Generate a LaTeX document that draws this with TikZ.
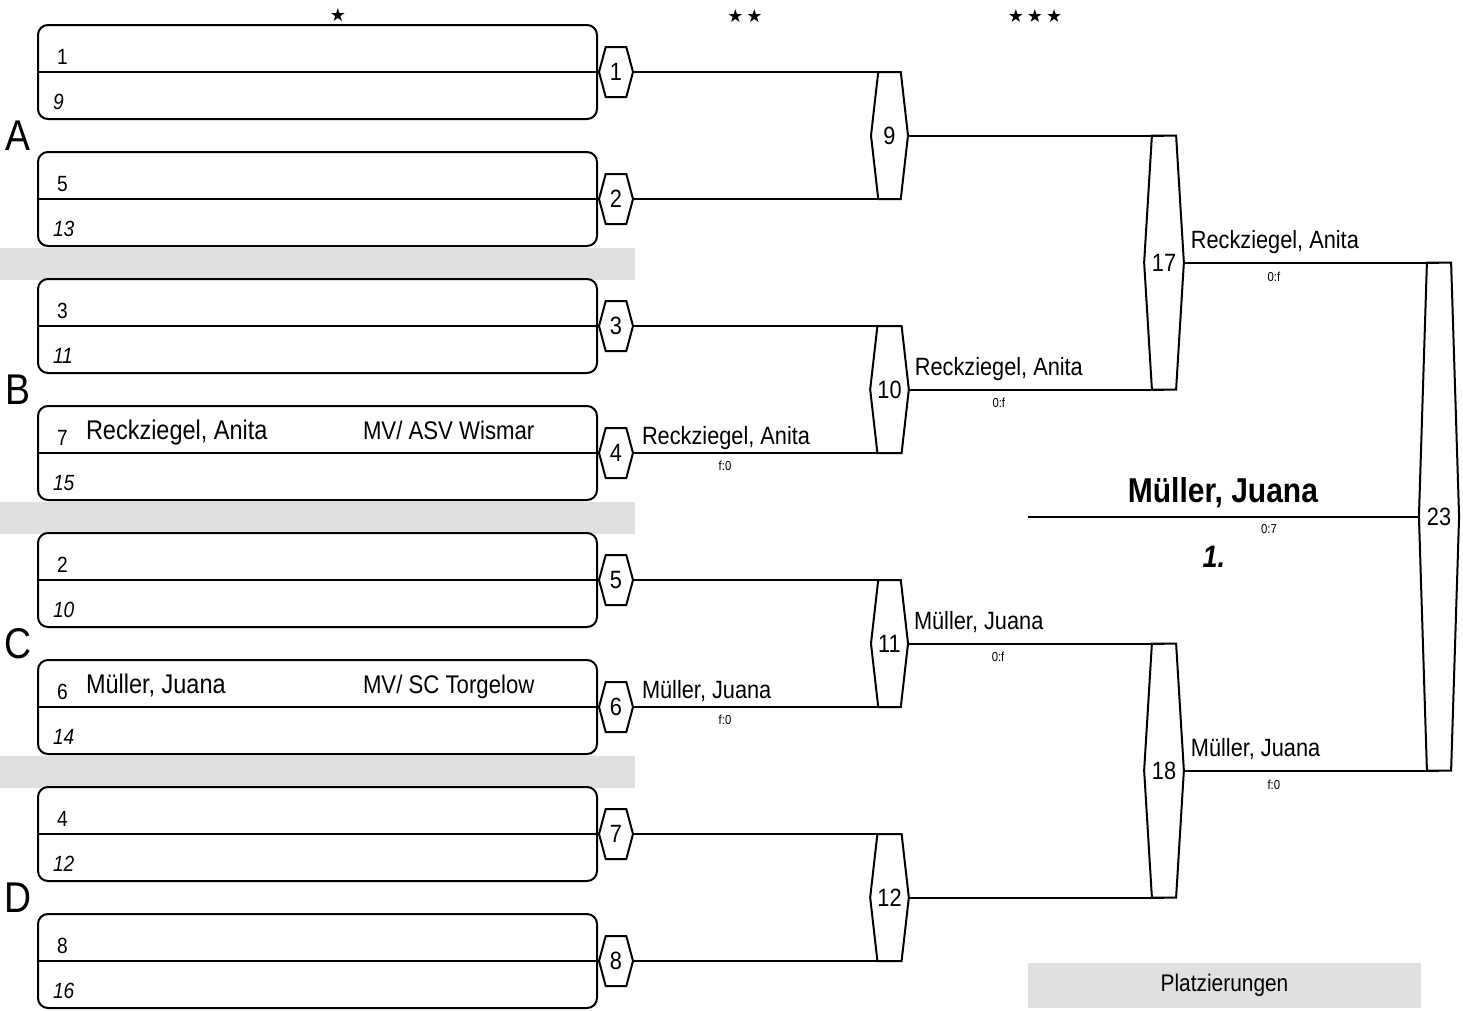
\documentclass[tikz,border=0pt]{standalone}
\usepackage{fontspec}
\setmainfont{Liberation Sans}[FakeStretch=0.87]
\newfontfamily\starfont{DejaVu Sans}
\usepackage{xcolor}
\usepackage{tikz}
\usetikzlibrary{positioning,calc,shapes.symbols}
\definecolor{bandgray}{RGB}{224,224,224}
\newcommand{\fsz}[1]{\fontsize{#1}{#1}\selectfont}

\begin{document}
\begin{tikzpicture}[
  x=1pt, y=-1pt,
  line width=2pt,
  node distance=33pt,
  pairbox/.style={draw, rounded corners=10pt, minimum width=559pt, minimum height=94pt,
                  inner sep=0pt, outer sep=0pt},
  band/.style={fill=bandgray, inner sep=0pt, outer sep=0pt, minimum width=635pt, minimum height=32pt},
  match/.style={draw, shape=signal, signal to=east and west, inner sep=0pt, outer sep=0pt, font=\fsz{25}},
  rone/.style={match, minimum width=34pt, minimum height=50pt, signal pointer angle=150},
  rtwo/.style={match, minimum width=37pt, minimum height=127pt, signal pointer angle=167},
  rthree/.style={match, minimum width=36pt, minimum height=254pt, signal pointer angle=173},
  rfour/.style={match, minimum width=34pt, minimum height=508pt, signal pointer angle=176.4},
  seed/.style={anchor=base west, inner sep=0pt, font=\fsz{22}},
  seedit/.style={seed, font=\fsz{22}\itshape},
  player/.style={anchor=base west, inner sep=0pt, font=\fsz{27}},
  club/.style={anchor=base west, inner sep=0pt, font=\fsz{25.5}},
  adv/.style={anchor=base west, inner sep=0pt, font=\fsz{25}},
  score/.style={inner sep=0pt, font=\fsz{13}},
  grp/.style={inner sep=0pt, font=\fsz{43}},
  stars/.style={inner sep=0pt, font=\starfont\fsz{18}},
]
\useasboundingbox (0,0) rectangle (1463,1010);

\node[stars] (st1) at (338,15) {★};
\node[stars] (st2) at (745,16) {★\,★};
\node[stars] (st3) at (1035,16) {★\,★\,★};

\node[band] (b1) at (317.5,263.5) {};
\node[band] (b2) at (317.5,517.5) {};
\node[band] (b3) at (317.5,772) {};

\node[pairbox] (p1) at (317.5,72) {};
\node[pairbox, below=of p1] (p2) {};
\node[pairbox, below=of p2] (p3) {};
\node[pairbox, below=of p3] (p4) {};
\node[pairbox, below=of p4] (p5) {};
\node[pairbox, below=of p5] (p6) {};
\node[pairbox, below=of p6] (p7) {};
\node[pairbox, below=of p7] (p8) {};

\node[grp] (ga) at ($(p1.west)!0.5!(p2.west)+(-20,0)$) {A};
\node[grp] (gb) at ($(p3.west)!0.5!(p4.west)+(-20,0)$) {B};
\node[grp] (gc) at ($(p5.west)!0.5!(p6.west)+(-20,0)$) {C};
\node[grp] (gd) at ($(p7.west)!0.5!(p8.west)+(-20,0)$) {D};

\draw (p1.west) -- (p1.east);
\draw (p2.west) -- (p2.east);
\draw (p3.west) -- (p3.east);
\draw (p4.west) -- (p4.east);
\draw (p5.west) -- (p5.east);
\draw (p6.west) -- (p6.east);
\draw (p7.west) -- (p7.east);
\draw (p8.west) -- (p8.east);

\node[seed] (s1) at ($(p1.west)+(18,-8)$) {1};
\node[seedit] (t1) at ($(p1.west)+(14,37)$) {9};
\node[seed] (s2) at ($(p2.west)+(18,-8)$) {5};
\node[seedit] (t2) at ($(p2.west)+(14,37)$) {13};
\node[seed] (s3) at ($(p3.west)+(18,-8)$) {3};
\node[seedit] (t3) at ($(p3.west)+(14,37)$) {11};
\node[seed] (s4) at ($(p4.west)+(18,-8)$) {7};
\node[seedit] (t4) at ($(p4.west)+(14,37)$) {15};
\node[seed] (s5) at ($(p5.west)+(18,-8)$) {2};
\node[seedit] (t5) at ($(p5.west)+(14,37)$) {10};
\node[seed] (s6) at ($(p6.west)+(18,-8)$) {6};
\node[seedit] (t6) at ($(p6.west)+(14,37)$) {14};
\node[seed] (s7) at ($(p7.west)+(18,-8)$) {4};
\node[seedit] (t7) at ($(p7.west)+(14,37)$) {12};
\node[seed] (s8) at ($(p8.west)+(18,-8)$) {8};
\node[seedit] (t8) at ($(p8.west)+(14,37)$) {16};

\node[player] (n4) at ($(p4.west)+(47,-14)$) {Reckziegel, Anita};
\node[club] (c4) at ($(p4.west)+(324,-14)$) {MV/ ASV Wismar};
\node[player] (n6) at ($(p6.west)+(47,-14)$) {Müller, Juana};
\node[club] (c6) at ($(p6.west)+(324,-14)$) {MV/ SC Torgelow};

\node[rone, right=2pt of p1] (m1) {1};
\node[rone, right=2pt of p2] (m2) {2};
\node[rone, right=2pt of p3] (m3) {3};
\node[rone, right=2pt of p4] (m4) {4};
\node[rone, right=2pt of p5] (m5) {5};
\node[rone, right=2pt of p6] (m6) {6};
\node[rone, right=2pt of p7] (m7) {7};
\node[rone, right=2pt of p8] (m8) {8};

\node[rtwo] (m9) at (889.5,135.5) {9};
\node[rtwo] (m10) at (889.5,389.5) {10};
\node[rtwo] (m11) at (889.5,643.5) {11};
\node[rtwo] (m12) at (889.5,897.5) {12};

\node[rthree] (m17) at (1164,262.5) {17};
\node[rthree] (m18) at (1164,770.5) {18};

\node[rfour] (m23) at (1439,516.5) {23};
\coordinate (podium) at (1028,516.5);

\draw (m1.east) -- (m1.east -| m9.north);
\draw (m2.east) -- (m2.east -| m9.south);
\draw (m3.east) -- (m3.east -| m10.north);
\draw (m4.east) -- (m4.east -| m10.south);
\draw (m5.east) -- (m5.east -| m11.north);
\draw (m6.east) -- (m6.east -| m11.south);
\draw (m7.east) -- (m7.east -| m12.north);
\draw (m8.east) -- (m8.east -| m12.south);
\draw (m9.east) -- (m9.east -| m17.north);
\draw (m10.east) -- (m10.east -| m17.south);
\draw (m11.east) -- (m11.east -| m18.north);
\draw (m12.east) -- (m12.east -| m18.south);
\draw (m17.east) -- (m17.east -| m23.north);
\draw (m18.east) -- (m18.east -| m23.south);
\draw (m23.west) -- (podium);

\node[adv] (w4) at ($(m4.east)+(8,-9)$) {Reckziegel, Anita};
\node[score] (r4) at ($(m4.east)+(92,13)$) {f:0};
\node[adv] (w6) at ($(m6.east)+(8,-9)$) {Müller, Juana};
\node[score] (r6) at ($(m6.east)+(92,13)$) {f:0};
\node[adv] (w10) at ($(m10.east)+(5,-14)$) {Reckziegel, Anita};
\node[score] (r10) at ($(m10.east)+(90,13)$) {0:f};
\node[adv] (w11) at ($(m11.east)+(5,-14)$) {Müller, Juana};
\node[score] (r11) at ($(m11.east)+(90,13)$) {0:f};
\node[adv] (w17) at ($(m17.east)+(6,-14)$) {Reckziegel, Anita};
\node[score] (r17) at ($(m17.east)+(90,14)$) {0:f};
\node[adv] (w18) at ($(m18.east)+(6,-14)$) {Müller, Juana};
\node[score] (r18) at ($(m18.east)+(90,14)$) {f:0};

\node[anchor=base, inner sep=0pt, font=\fsz{34.5}\bfseries] (champ) at ($(m23.west)+(-196,-14)$) {Müller, Juana};
\node[score] (r23) at ($(m23.west)+(-150,13)$) {0:7};
\node[inner sep=0pt, font=\fsz{31}\bfseries\itshape] (rank) at ($(m23.west)+(-205,40)$) {1.};

\node[band, minimum width=393pt, minimum height=45pt, font=\fsz{24}] (plz) at (1224.5,985.5) {Platzierungen};
\end{tikzpicture}
\end{document}
